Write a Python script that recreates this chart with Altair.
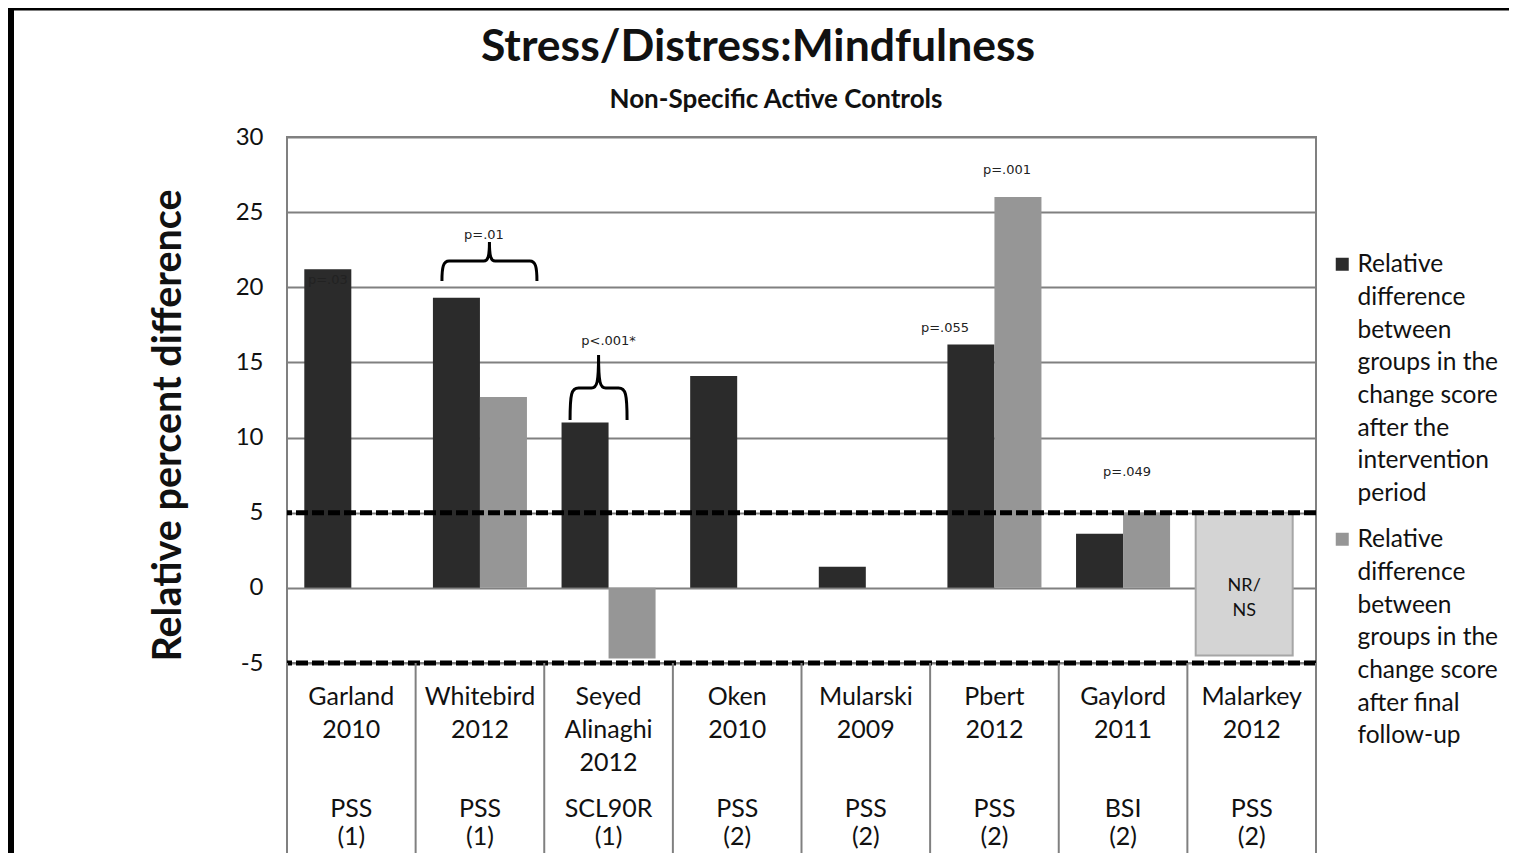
import altair as alt
import pandas as pd

# ---------------- data ----------------
title_text = "Stress/Distress:Mindfulness"
subtitle_text = "Non-Specific Active Controls"
y_title = "Relative percent difference"
studies = ["Garland", "Whitebird", "Seyed Alinaghi", "Oken", "Mularski", "Pbert", "Gaylord", "Malarkey"]
years = ["2010", "2012", "2012", "2010", "2009", "2012", "2011", "2012"]
measures = ["PSS", "PSS", "SCL90R", "PSS", "PSS", "PSS", "BSI", "PSS"]
measure_groups = ["(1)", "(1)", "(1)", "(2)", "(2)", "(2)", "(2)", "(2)"]
after_intervention = [21.2, 19.3, 11.0, 14.1, 1.4, 16.2, 3.6, None]
after_followup = [None, 12.7, -4.7, None, None, 26.0, 5.0, None]
series_names = [
    "Relative|difference|between|groups in the|change score|after the|intervention|period",
    "Relative|difference|between|groups in the|change score|after final|follow-up",
]
series_colors = ["#2b2b2b", "#969696"]
nrns_study = "Malarkey"
nrns_low = [-4.5]
nrns_high = [5.0]
nrns_label = ["NR/\nNS"]
threshold_values = [5, -5]
y_ticks = [-5, 0, 5, 10, 15, 20, 25, 30]

ann_study = ["Garland", "Whitebird", "Seyed Alinaghi", "Pbert", "Pbert", "Gaylord"]
ann_text = ["p=.03", "p=.01", "p<.001*", "p=.055", "p=.001", "p=.049"]
ann_value = [20.5, 23.5, 16.4, 17.3, 27.8, 7.7]

brace_study = ["Whitebird", "Seyed Alinaghi"]
brace_value = [21.75, 13.3]

# ---------------- tables ----------------
keys = [f"{s} {y}" for s, y in zip(studies, years)]
key_of = dict(zip(studies, keys))

bar_rows = []
for k, a, f in zip(keys, after_intervention, after_followup):
    if a is not None:
        bar_rows.append({"key": k, "series": series_names[0], "value": a})
    if f is not None:
        bar_rows.append({"key": k, "series": series_names[1], "value": f})
bars_df = pd.DataFrame(bar_rows)

names_df = pd.DataFrame({
    "key": keys,
    "name": ["\n".join(s.split(" ") + [y]) for s, y in zip(studies, years)],
    "measure": [m + "\n" + g for m, g in zip(measures, measure_groups)],
})

W, H = 1029, 526
FONT = "Lato"
TXT = "#111111"

x_scale = alt.Scale(domain=keys, paddingInner=0, paddingOuter=0)
y_scale = alt.Scale(domain=[-5, 30], nice=False)
xo_scale = alt.Scale(domain=series_names, paddingInner=0, paddingOuter=0.368)

X = lambda **kw: alt.X("key:N", scale=x_scale, axis=None, sort=keys, **kw)

LEGEND_DY = -11

bars = alt.Chart(bars_df).mark_bar().encode(
    x=X(),
    xOffset=alt.XOffset("series:N", scale=xo_scale, sort=series_names),
    y=alt.Y(
        "value:Q",
        scale=y_scale,
        axis=alt.Axis(
            values=y_ticks, grid=True, gridColor="#808080", gridWidth=2,
            ticks=False, domain=False, labelFont=FONT, labelFontSize=24, labelColor=TXT,
            labelPadding=24, labelOffset=-LEGEND_DY, labelExpr="'' + datum.value",
            title=y_title, titleFont=FONT,
            titleFontSize=39.5, titleFontWeight="bold", titleColor=TXT, titleAngle=-90,
            titleX=-119, titleY=288, titleAlign="center", titleBaseline="middle",
        ),
    ),
    color=alt.Color(
        "series:N",
        scale=alt.Scale(domain=series_names, range=series_colors),
        legend=alt.Legend(
            title=None, orient="none", legendX=1043, legendY=115,
            labelExpr="split(datum.label, '|')", labelFont=FONT, labelFontSize=24.5,
            labelColor=TXT, labelLimit=0, symbolType="square", symbolSize=169,
            symbolStrokeWidth=0, rowPadding=21, labelBaseline="top", labelOffset=3,
        ),
    ),
)

nrns_df = pd.DataFrame({"key": [key_of[nrns_study]], "low": nrns_low, "high": nrns_high, "label": nrns_label})
nrns_box = alt.Chart(nrns_df).mark_bar(
    width=97, xOffset=-7.5, color="#d4d4d4", stroke="#a6a6a6", strokeWidth=2
).encode(x=X(), y=alt.Y("high:Q", scale=y_scale), y2="low:Q")
nrns_text = alt.Chart(nrns_df).mark_text(
    font=FONT, fontSize=18, color=TXT, lineBreak="\n", lineHeight=25, xOffset=-7.5
).encode(x=X(), y=alt.datum(0.1, scale=y_scale), text="label:N")

thr_df = pd.DataFrame({"v": threshold_values})
thresholds = alt.Chart(thr_df).mark_rule(
    color="black", strokeWidth=5, strokeDash=[12, 4]
).encode(y=alt.Y("v:Q", scale=y_scale))

# p-value annotations
ann_dx = [-23.5, 4, 0, -49.5, 12.5, 4]
ann_layers = []
for s, t, v, dx in zip(ann_study, ann_text, ann_value, ann_dx):
    d = pd.DataFrame({"key": [key_of[s]], "text": [t], "v": [v]})
    ann_layers.append(
        alt.Chart(d).mark_text(font="DejaVu Sans", fontSize=13, color="#222222", dx=dx).encode(
            x=X(), y=alt.Y("v:Q", scale=y_scale), text="text:N"
        )
    )

# braces drawn as custom symbols
brace_paths = [
    "M -1 0.42 C -1 0.12 -0.97 0 -0.85 0 L -0.12 0 C -0.03 0 0 -0.1 0 -0.4 "
    "C 0 -0.1 0.03 0 0.12 0 L 0.85 0 C 0.97 0 1 0.12 1 0.42",
    "M -1 1.12 C -1 0.2 -0.95 0 -0.7 0 L -0.25 0 C -0.05 0 0 -0.2 0 -1.16 "
    "C 0 -0.2 0.05 0 0.25 0 L 0.7 0 C 0.95 0 1 0.2 1 1.12",
]
brace_sizes = [95 ** 2, 57 ** 2]
brace_dx = [9.5, -10]
brace_layers = []
for s, v, p, sz, dx in zip(brace_study, brace_value, brace_paths, brace_sizes, brace_dx):
    d = pd.DataFrame({"key": [key_of[s]], "v": [v]})
    brace_layers.append(
        alt.Chart(d).mark_point(
            shape=p, size=sz, filled=False, stroke="black", strokeWidth=3, opacity=1, xOffset=dx
        ).encode(x=X(), y=alt.Y("v:Q", scale=y_scale))
    )

# table under the plot
sep = alt.Chart(names_df).mark_rule(color="#808080", strokeWidth=2).encode(
    x=X(bandPosition=0), y=alt.value(H), y2=alt.value(723)
)
sep_last = alt.Chart(names_df.tail(1)).mark_rule(color="#808080", strokeWidth=2).encode(
    x=X(bandPosition=1), y=alt.value(H), y2=alt.value(723)
)
name_text = alt.Chart(names_df).mark_text(
    font=FONT, fontSize=25, color=TXT, baseline="top", lineBreak="\n", lineHeight=33
).encode(x=X(), y=alt.value(548), text="name:N")
measure_text = alt.Chart(names_df).mark_text(
    font=FONT, fontSize=25, color=TXT, baseline="top", lineBreak="\n", lineHeight=28
).encode(x=X(), y=alt.value(660), text="measure:N")

# titles
head_df = pd.DataFrame({"t": [title_text], "s": [subtitle_text]})
title_mark = alt.Chart(head_df).mark_text(
    font=FONT, fontSize=44.5, fontWeight="bold", color=TXT, baseline="alphabetic"
).encode(x=alt.value(471), y=alt.value(-76), text="t:N")
subtitle_mark = alt.Chart(head_df).mark_text(
    font=FONT, fontSize=26, fontWeight="bold", color=TXT, baseline="alphabetic"
).encode(x=alt.value(489), y=alt.value(-29), text="s:N")

# outer frame (left and top edges visible in the picture)
frame_df = pd.DataFrame({"k": [0]})
frame_left = alt.Chart(frame_df).mark_rule(color="black", strokeWidth=6).encode(
    x=alt.value(-276), y=alt.value(-129), y2=alt.value(723)
)
frame_top = alt.Chart(frame_df).mark_rule(color="black", strokeWidth=3).encode(
    x=alt.value(-279), x2=alt.value(1230), y=alt.value(-128)
)

chart = alt.layer(
    bars, nrns_box, nrns_text, thresholds, *ann_layers, *brace_layers,
    sep, sep_last, name_text, measure_text, title_mark, subtitle_mark,
    frame_left, frame_top,
).properties(
    width=W, height=H,
    autosize=alt.AutoSizeParams(type="none"),
    padding={"left": 279, "top": 129, "right": 193, "bottom": 190},
).configure(
    background="white", style={"guide-label": {"lineHeight": 32.7, "dy": LEGEND_DY}}
).configure_view(
    stroke="#808080", strokeWidth=2
)

chart.save("out.html", embed_options={"renderer": "svg", "actions": False})
